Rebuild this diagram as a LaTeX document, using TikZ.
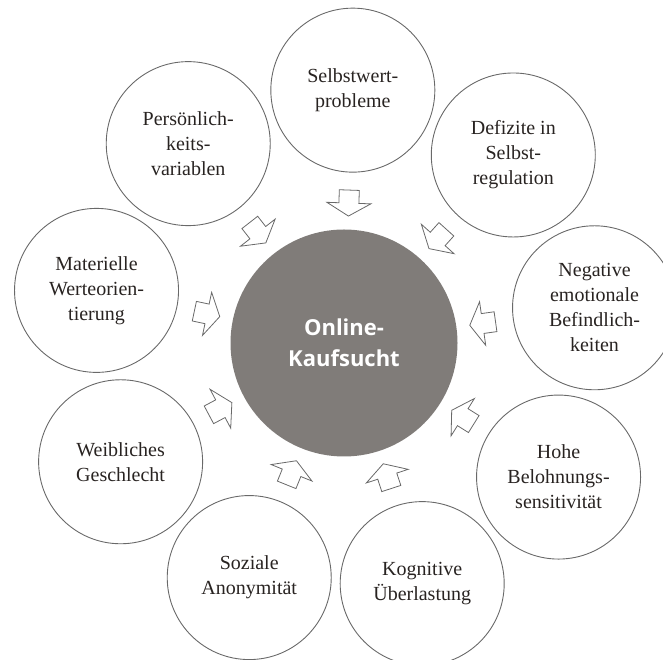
\documentclass[tikz,border=0pt]{standalone}
\usepackage{fontspec}
\setmainfont{Liberation Serif}
\newfontfamily\hubfont{Open Sans}
\usetikzlibrary{calc}
\definecolor{hubgray}{RGB}{128,124,121}
\definecolor{rimgray}{RGB}{105,105,105}
\definecolor{inkdark}{RGB}{40,35,33}
\begin{document}
\begin{tikzpicture}[x=1pt,y=1pt,
  factor/.style={circle, draw=rimgray, line width=0.9pt, minimum size=164pt,
    inner sep=0pt, align=center, text=inkdark, font=\fontsize{20}{25}\selectfont},
  hub/.style={circle, fill=hubgray, minimum size=227pt, inner sep=0pt,
    align=center, text=white, font=\hubfont\bfseries\fontsize{22}{31}\selectfont},
  inarrow/.pic={\draw[rimgray, line width=0.8pt, line join=miter]
    (-13,-10) -- (0,-10) -- (0,-22) -- (13,0) -- (0,22) -- (0,10) -- (-13,10) -- cycle;}
]
\clip (0,0) rectangle (663,660);
\coordinate (C) at (344,317);
\node[hub] (hub) at (C) {Online-\\Kaufsucht};
\foreach \k/\txt in {
  0/{Selbstwert-\\probleme},
  1/{Defizite in\\Selbst-\\regulation},
  2/{Negative\\emotionale\\Befindlich-\\keiten},
  3/{Hohe\\Belohnungs-\\sensitivität},
  4/{Kognitive\\Überlastung},
  5/{Soziale\\Anonymität},
  6/{Weibliches\\Geschlecht},
  7/{Materielle\\Werteorien-\\tierung},
  8/{Persönlich-\\keits-\\variablen}}{
  \pgfmathsetmacro{\a}{88-40*\k}
  \node[factor] (f\k) at ($(C)+(\a:253)$) {\txt};
  \pic[rotate=\a+180] at ($(C)+(\a:140)$) {inarrow};
}
\end{tikzpicture}
\end{document}
